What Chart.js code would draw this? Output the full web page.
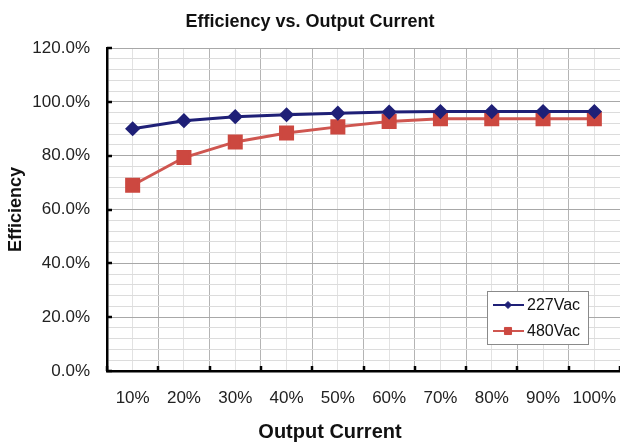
<!DOCTYPE html>
<html><head><meta charset="utf-8">
<script src="https://cdn.jsdelivr.net/npm/chart.js@4"></script>
<style>html,body{margin:0;padding:0;background:#fff}canvas{display:block}</style>
</head><body>
<canvas id="c" width="620" height="443"></canvas>
<script>
const categories = ['10%','20%','30%','40%','50%','60%','70%','80%','90%','100%'];
const series227 = [90.0, 93.0, 94.5, 95.2, 95.8, 96.2, 96.4, 96.4, 96.4, 96.4];
const series480 = [69.0, 79.3, 85.1, 88.4, 90.7, 92.7, 93.7, 93.7, 93.7, 93.7];
const seriesNames = ['227Vac', '480Vac'];
const chartTitle = 'Efficiency vs. Output Current';
const xTitle = 'Output Current';
const yTitle = 'Efficiency';

const FONT = '"Liberation Sans", Arial, sans-serif';
const BLUE = '#1f2077';
const RED_LINE = '#cf5650';
const RED_FILL = '#cc4840';

const toPoints = arr => arr.map((v, i) => ({x: i + 1, y: v}));

const decor = {
  id: 'decor',
  afterDraw(chart) {
    const {ctx, chartArea: a, scales: {x, y}} = chart;
    ctx.save();
    // inner tick marks
    ctx.strokeStyle = '#000';
    ctx.lineWidth = 2.5;
    for (let v = 0; v <= 120; v += 20) {
      const py = Math.round(y.getPixelForValue(v));
      ctx.beginPath(); ctx.moveTo(a.left, py); ctx.lineTo(a.left + 5, py); ctx.stroke();
    }
    for (let k = 0; k <= categories.length; k++) {
      const px = Math.round(x.getPixelForValue(k + 0.5));
      ctx.beginPath(); ctx.moveTo(px, a.bottom); ctx.lineTo(px, a.bottom - 5); ctx.stroke();
    }
    // x title
    ctx.fillStyle = '#111';
    ctx.font = 'bold 20px ' + FONT;
    ctx.textAlign = 'center';
    ctx.textBaseline = 'alphabetic';
    ctx.fillText(xTitle, 330, 438);
    // legend
    const lx = 487, ly = 291, lw = 101, lh = 53;
    ctx.fillStyle = '#fff';
    ctx.fillRect(lx, ly, lw, lh);
    ctx.strokeStyle = '#8a8a8a';
    ctx.lineWidth = 1;
    ctx.strokeRect(lx + 0.5, ly + 0.5, lw, lh);
    chart.data.datasets.forEach((ds, i) => {
      const cy = ly + 14 + i * 26;
      ctx.strokeStyle = ds.borderColor;
      ctx.lineWidth = 2;
      ctx.beginPath(); ctx.moveTo(lx + 6, cy); ctx.lineTo(lx + 37, cy); ctx.stroke();
      ctx.fillStyle = ds.pointBackgroundColor;
      ctx.strokeStyle = ds.pointBorderColor;
      ctx.lineWidth = 1;
      Chart.helpers.drawPoint(ctx, {
        pointStyle: ds.pointStyle, radius: i === 0 ? 3.5 : 5, rotation: 0, borderWidth: 1
      }, lx + 21, cy);
      ctx.fillStyle = '#111';
      ctx.font = '16px ' + FONT;
      ctx.textAlign = 'left';
      ctx.textBaseline = 'middle';
      ctx.fillText(ds.label, lx + 40, cy + 1);
    });
    ctx.restore();
  }
};

new Chart(document.getElementById('c'), {
  type: 'line',
  data: {
    datasets: [
      {
        label: seriesNames[0], data: toPoints(series227),
        borderColor: BLUE, backgroundColor: BLUE,
        pointBackgroundColor: BLUE, pointBorderColor: BLUE,
        pointStyle: 'rectRot', pointRadius: 5.5, borderWidth: 3, tension: 0
      },
      {
        label: seriesNames[1], data: toPoints(series480),
        borderColor: RED_LINE, backgroundColor: RED_FILL,
        pointBackgroundColor: RED_FILL, pointBorderColor: RED_FILL,
        pointStyle: 'rect', pointRadius: 8.5, borderWidth: 3, tension: 0
      }
    ]
  },
  options: {
    responsive: false,
    animation: false,
    layout: {autoPadding: false, padding: {left: 0, right: 0, top: 0, bottom: 0}},
    plugins: {
      legend: {display: false},
      tooltip: {enabled: false},
      title: {
        display: true, text: chartTitle, color: '#111',
        font: {family: FONT, size: 18, weight: 'bold'},
        padding: {top: 11, bottom: 15.4}
      }
    },
    scales: {
      x: {
        type: 'linear', min: 0.5, max: 10.5,
        afterFit: s => { s.height = 72; s.paddingLeft = 0; s.paddingRight = 0; },
        afterBuildTicks: s => {
          const t = [];
          for (let v = 0.5; v <= 10.5001; v += 0.5) t.push({value: Math.round(v * 2) / 2});
          s.ticks = t;
        },
        ticks: {
          autoSkip: false, maxRotation: 0, padding: 17, color: '#222',
          font: {family: FONT, size: 17},
          callback: v => Number.isInteger(v) ? categories[v - 1] : ''
        },
        grid: {
          drawTicks: false, lineWidth: 1,
          color: c => (c.tick && Number.isInteger(c.tick.value)) ? '#e2e2e2' : '#b4b4b4'
        },
        border: {display: true, color: '#000', width: 2.5}
      },
      y: {
        min: 0, max: 120,
        afterFit: s => { s.width = 107; s.paddingTop = 0; s.paddingBottom = 0; },
        afterBuildTicks: s => {
          const t = [];
          for (let v = 0; v <= 120; v += 4) t.push({value: v});
          s.ticks = t;
        },
        ticks: {
          autoSkip: false, padding: 17, color: '#222',
          font: {family: FONT, size: 17},
          callback: v => (v % 20 === 0) ? v.toFixed(1) + '%' : ''
        },
        grid: {
          drawTicks: false, lineWidth: 1,
          color: c => (c.tick && c.tick.value % 20 === 0) ? '#a8a8a8' : '#dcdcdc'
        },
        border: {display: true, color: '#000', width: 2.5},
        title: {
          display: true, text: yTitle, color: '#111',
          font: {family: FONT, size: 18, weight: 'bold'},
          padding: {top: 5, bottom: 0}
        }
      }
    }
  },
  plugins: [decor]
});
</script>
</body></html>
